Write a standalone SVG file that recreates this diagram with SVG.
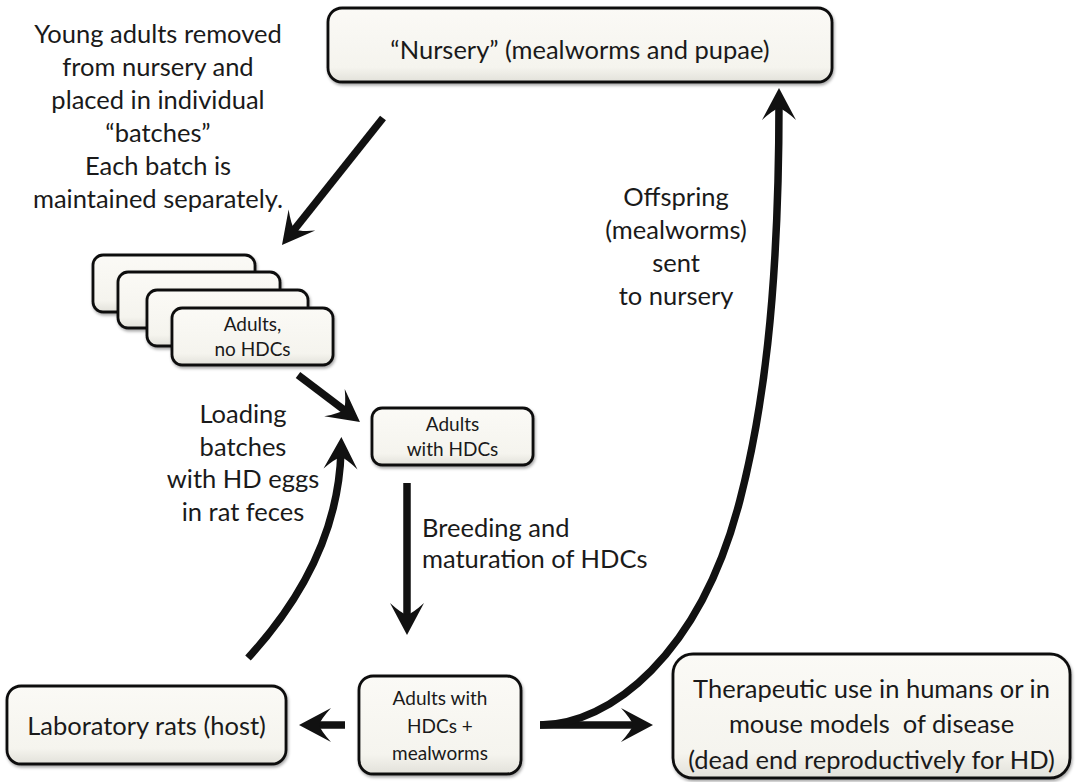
<svg xmlns="http://www.w3.org/2000/svg" width="1077" height="782" viewBox="0 0 1077 782">
  <defs>
    <linearGradient id="boxFill" x1="0" y1="0" x2="0" y2="1">
      <stop offset="0" stop-color="#fbfaf6"/>
      <stop offset="0.8" stop-color="#f5f4ee"/>
      <stop offset="1" stop-color="#e2e1da"/>
    </linearGradient>
    <filter id="shadow" x="-10%" y="-10%" width="120%" height="130%">
      <feDropShadow dx="1" dy="2" stdDeviation="1.5" flood-color="#000" flood-opacity="0.35"/>
    </filter>
    <marker id="arrow" markerUnits="userSpaceOnUse" viewBox="-33 -18 35 36" refX="-14" refY="0" markerWidth="35" markerHeight="36" orient="auto">
      <path d="M0,0 L-32,-17 Q-22,-6 -20,0 Q-22,6 -32,17 Z" fill="#111"/>
    </marker>
  </defs>
  <style>
    .box { fill: url(#boxFill); stroke: #111; stroke-width: 2.8; filter: url(#shadow); }
    .t { font-family: Lato, "Liberation Sans", sans-serif; fill: #1a1a1a; text-anchor: middle; }
    .big { font-size: 25.5px; }
    .small { font-size: 19px; }
    .left { text-anchor: start; }
    .pre { white-space: pre; }
    .conn { fill: none; stroke: #111; stroke-width: 7.5; marker-end: url(#arrow); }
  </style>

  <rect width="1077" height="782" fill="#fff"/>

  <g id="label-young-adults">
    <text class="t big" x="158" y="43">Young adults removed</text>
    <text class="t big" x="158" y="76">from nursery and</text>
    <text class="t big" x="158" y="109">placed in individual</text>
    <text class="t big" x="158" y="142">“batches”</text>
    <text class="t big" x="158" y="175">Each batch is</text>
    <text class="t big" x="158" y="208">maintained separately.</text>
  </g>

  <g id="node-nursery">
    <rect class="box" x="328" y="8" width="504" height="74" rx="14"/>
    <text class="t big" x="580" y="59">“Nursery” (mealworms and pupae)</text>
  </g>

  <g id="node-batches">
    <rect class="box" x="93" y="255" width="162" height="57" rx="10"/>
    <rect class="box" x="118" y="272" width="162" height="56" rx="10"/>
    <rect class="box" x="147" y="290" width="161" height="56" rx="10"/>
    <rect class="box" x="172" y="308" width="161" height="57" rx="10"/>
    <text class="t small" x="252.5" y="331">Adults,</text>
    <text class="t small" x="252.5" y="356">no HDCs</text>
  </g>

  <g id="node-adults-hdc">
    <rect class="box" x="372" y="408" width="161" height="57" rx="10"/>
    <text class="t small" x="452.5" y="431">Adults</text>
    <text class="t small" x="452.5" y="456">with HDCs</text>
  </g>

  <g id="node-adults-mealworms">
    <rect class="box" x="359" y="676" width="162" height="98" rx="14"/>
    <text class="t small" x="440" y="705">Adults with</text>
    <text class="t small" x="440" y="733">HDCs +</text>
    <text class="t small" x="440" y="760">mealworms</text>
  </g>

  <g id="node-rats">
    <rect class="box" x="7" y="686" width="279" height="78" rx="14"/>
    <text class="t big" x="146.5" y="735">Laboratory rats (host)</text>
  </g>

  <g id="node-therapeutic">
    <rect class="box" x="673" y="654" width="397" height="124" rx="20"/>
    <text class="t big" x="871.5" y="698">Therapeutic use in humans or in</text>
    <text class="t big pre" x="871.5" y="733">mouse models  of disease</text>
    <text class="t big" x="871.5" y="769">(dead end reproductively for HD)</text>
  </g>

  <g id="label-offspring">
    <text class="t big" x="676" y="206">Offspring</text>
    <text class="t big" x="676" y="239">(mealworms)</text>
    <text class="t big" x="676" y="272">sent</text>
    <text class="t big" x="676" y="305">to nursery</text>
  </g>

  <g id="label-loading">
    <text class="t big" x="243" y="423">Loading</text>
    <text class="t big" x="243" y="455.5">batches</text>
    <text class="t big" x="243" y="488">with HD eggs</text>
    <text class="t big" x="243" y="520.5">in rat feces</text>
  </g>

  <g id="label-breeding">
    <text class="t big left" x="422" y="537">Breeding and</text>
    <text class="t big left" x="422" y="568">maturation of HDCs</text>
  </g>

  <g id="connectors">
    <path class="conn" d="M383,118 L290.7,234.1"/>
    <path class="conn" d="M298,375 L348.8,413.5"/>
    <path class="conn" d="M248,658 Q338,560 341,451"/>
    <path class="conn" d="M407,483 L407,621"/>
    <path class="conn" d="M345,725 L313,725"/>
    <path class="conn" d="M540,725 L639,725"/>
    <path class="conn" d="M540,725 C610,725 700,655 740,500 C762,415 779,300 779,102"/>
  </g>
</svg>
